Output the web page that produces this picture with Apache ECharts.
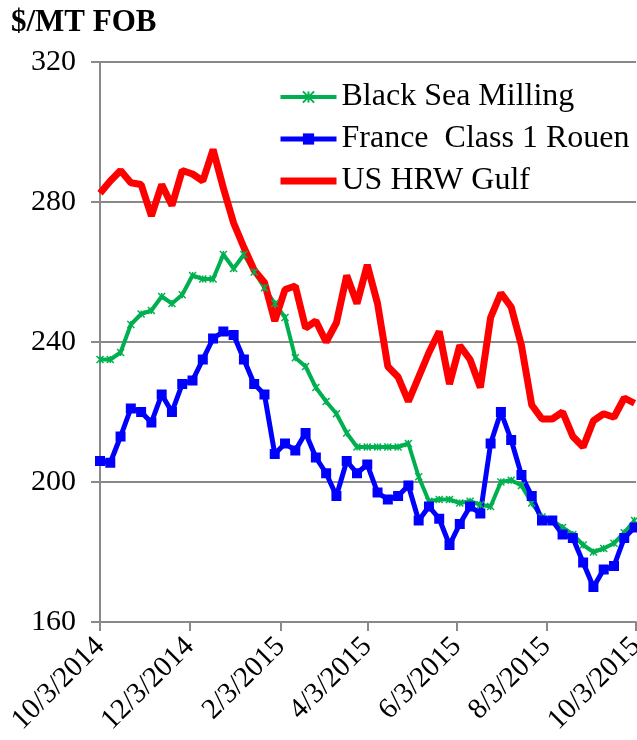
<!DOCTYPE html>
<html>
<head>
<meta charset="utf-8">
<script src="https://cdn.jsdelivr.net/npm/echarts@6/dist/echarts.min.js"></script>
<style>
  html, body { margin: 0; padding: 0; background: #fff; }
  #chart { width: 637px; height: 740px; }
</style>
</head>
<body>
<div id="chart"></div>
<script>
// weekly dates (Fridays)
const weeks = [
  '2014-10-03', '2014-10-10', '2014-10-17', '2014-10-24', '2014-10-31',
  '2014-11-07', '2014-11-14', '2014-11-21', '2014-11-28',
  '2014-12-05', '2014-12-12', '2014-12-19', '2014-12-26',
  '2015-01-02', '2015-01-09', '2015-01-16', '2015-01-23', '2015-01-30',
  '2015-02-06', '2015-02-13', '2015-02-20', '2015-02-27',
  '2015-03-06', '2015-03-13', '2015-03-20', '2015-03-27',
  '2015-04-03', '2015-04-10', '2015-04-17', '2015-04-24',
  '2015-05-01', '2015-05-08', '2015-05-15', '2015-05-22', '2015-05-29',
  '2015-06-05', '2015-06-12', '2015-06-19', '2015-06-26',
  '2015-07-03', '2015-07-10', '2015-07-17', '2015-07-24', '2015-07-31',
  '2015-08-07', '2015-08-14', '2015-08-21', '2015-08-28',
  '2015-09-04', '2015-09-11', '2015-09-18', '2015-09-25', '2015-10-02'
]

const blackSea = [
  235, 235, 237, 245, 248, 249, 253, 251, 253.5, 259, 258, 258, 265,
  261, 265, 260, 255.5, 251, 247, 235.5, 233, 227, 223, 219.5, 214, 210,
  210, 210, 210, 210, 211, 201.5, 194.5, 195, 195, 194, 194.5, 193.5, 193,
  200, 200.5, 199, 194, 190, 189, 187, 185, 182, 180, 181, 182.5, 185.5, 189
]

const franceRouen = [
  206, 205.5, 213, 221, 220, 217, 225, 220, 228, 229, 235, 241, 243,
  242, 235, 228, 225, 208, 211, 209, 214, 207, 202.5, 196, 206, 202.5,
  205, 197, 195, 196, 199, 189, 193, 189.5, 182, 188, 193, 191, 211,
  220, 212, 202, 196, 189, 189, 185, 184, 177, 170, 175, 176, 184, 187
]

const usHrwGulf = [
  282.5, 286, 289, 285.5, 285, 276, 285, 279, 289, 288, 286, 295, 284,
  274, 267, 260.5, 257, 246, 255, 256, 244, 246, 240, 245.5, 259, 251,
  262, 251, 233, 230, 223, 230, 237, 243, 228, 239, 235, 227, 247,
  254, 250, 239, 222, 218, 218, 220, 213, 210, 217.5, 219.5, 218.5, 224, 222.5
]

const tickDates = ['2014-10-03', '2014-12-03', '2015-02-03', '2015-04-03', '2015-06-03', '2015-08-03', '2015-10-03']

const toTime = s => {
  const [y, m, d] = s.split('-').map(Number)
  return new Date(y, m - 1, d).getTime()
}
const pairs = vals => vals.map((v, i) => [toTime(weeks[i]), v])
const tickTimes = tickDates.map(toTime)

const font = 'Liberation Serif'
const gray = '#898989'
const starPath = 'path://M0,0L10,10M10,0L0,10M5,0L5,10'

const chart = echarts.init(document.getElementById('chart'))
chart.setOption({
  animation: false,
  title: {
    text: '$/MT FOB',
    left: 6,
    top: 2,
    textStyle: { fontFamily: font, fontSize: 31, fontWeight: 'bold', color: '#000' }
  },
  legend: {
    orient: 'vertical',
    left: 272,
    top: 76,
    itemWidth: 56,
    itemHeight: 14,
    itemGap: 10,
    textStyle: { fontFamily: font, fontSize: 32, color: '#000', lineHeight: 32 },
    data: [
      { name: 'Black Sea Milling', lineStyle: { width: 4 } },
      { name: 'France  Class 1 Rouen', lineStyle: { width: 5 } },
      { name: 'US HRW Gulf', lineStyle: { width: 7 }, itemStyle: { opacity: 0 } }
    ]
  },
  grid: { left: 100, right: 1, top: 62, bottom: 118, outerBoundsMode: 'none' },
  xAxis: {
    type: 'value',
    min: tickTimes[0],
    max: tickTimes[tickTimes.length - 1],
    axisLine: { lineStyle: { color: gray, width: 2 } },
    axisTick: { show: true, length: 9, lineStyle: { color: gray, width: 2 }, customValues: tickTimes },
    splitLine: { show: false },
    axisLabel: {
      customValues: tickTimes,
      rotate: 45,
      margin: 20,
      fontFamily: font,
      fontSize: 29,
      color: '#000',
      hideOverlap: false,
      formatter: v => {
        const d = new Date(v)
        return (d.getMonth() + 1) + '/' + d.getDate() + '/' + d.getFullYear()
      }
    }
  },
  yAxis: {
    type: 'value',
    min: 160,
    max: 320,
    interval: 40,
    axisLine: { show: true, lineStyle: { color: gray, width: 2 } },
    axisTick: { show: true, length: 9, lineStyle: { color: gray, width: 2 } },
    splitLine: { lineStyle: { color: gray, width: 2 } },
    axisLabel: { margin: 24, fontFamily: font, fontSize: 30, color: '#000' }
  },
  series: [
    {
      name: 'Black Sea Milling',
      type: 'line',
      data: pairs(blackSea),
      symbol: starPath,
      symbolSize: 7,
      showAllSymbol: true,
      lineStyle: { color: '#00B050', width: 4 },
      itemStyle: { color: '#00B050', borderColor: '#00B050', borderWidth: 1.5 }
    },
    {
      name: 'France  Class 1 Rouen',
      type: 'line',
      data: pairs(franceRouen),
      symbol: 'rect',
      symbolSize: 10,
      showAllSymbol: true,
      lineStyle: { color: '#0000FF', width: 5 },
      itemStyle: { color: '#0000FF' }
    },
    {
      name: 'US HRW Gulf',
      type: 'line',
      data: pairs(usHrwGulf),
      symbol: 'none',
      lineStyle: { color: '#FF0000', width: 7 },
      itemStyle: { color: '#FF0000' }
    }
  ]
})
</script>
</body>
</html>
